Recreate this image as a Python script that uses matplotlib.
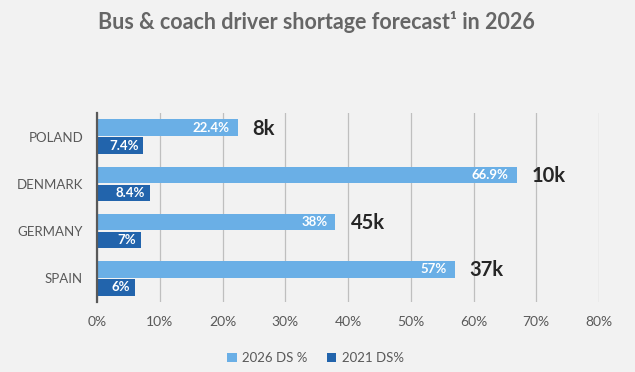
import matplotlib
matplotlib.use("Agg")
import matplotlib.pyplot as plt
import numpy as np
from matplotlib.patches import Patch

countries = ["POLAND", "DENMARK", "GERMANY", "SPAIN"]
ds_2026 = [22.4, 66.9, 38, 57]
ds_2021 = [7.4, 8.4, 7, 6]
labels_2026 = ["22.4%", "66.9%", "38%", "57%"]
labels_2021 = ["7.4%", "8.4%", "7%", "6%"]
shortage = ["8k", "10k", "45k", "37k"]
xticks = [0, 10, 20, 30, 40, 50, 60, 70, 80]
series_names = ["2026 DS %", "2021 DS%"]

plt.rcParams['font.family'] = ['Lato', 'DejaVu Sans']

bg = "#F2F2F2"
c_light = "#6AAFE6"
c_dark = "#2264AC"
txt = "#595959"

fig = plt.figure(figsize=(6.35, 3.72), dpi=100, facecolor=bg)
ax = fig.add_axes([0.1528, 0.188, 0.7905, 0.508], facecolor=bg)

y = np.arange(len(countries))
h = 0.35
off = 0.19
ax.barh(y - off, ds_2026, height=h, color=c_light, zorder=3)
ax.barh(y + off, ds_2021, height=h, color=c_dark, zorder=3)

for i in range(len(countries)):
    ax.text(ds_2026[i] - 1.3, y[i] - off, labels_2026[i], ha="right", va="center",
            color="white", fontsize=9.5, fontweight="bold", zorder=4)
    ax.text(ds_2021[i] - 0.8, y[i] + off, labels_2021[i], ha="right", va="center",
            color="white", fontsize=9.5, fontweight="bold", zorder=4)
    ax.text(ds_2026[i] + 2.4, y[i] - off + 0.02, shortage[i], ha="left", va="center",
            color="#262626", fontsize=14.5, fontweight="bold", zorder=4)

ax.set_xlim(0, 80)
ax.set_ylim(3.5, -0.5)
ax.set_xticks(xticks)
ax.set_xticklabels([f"{v}%" for v in xticks], color=txt, fontsize=10)
ax.set_yticks(y)
ax.set_yticklabels(countries, color=txt, fontsize=9.5)
ax.tick_params(axis="both", length=0, pad=10)
ax.tick_params(axis="y", pad=10)
ax.grid(axis="x", color="#BFBFBF", linewidth=0.9, zorder=0)
for s in ["top", "right", "bottom"]:
    ax.spines[s].set_visible(False)
ax.spines["left"].set_color("#595959")
ax.spines["left"].set_linewidth(1.6)
ax.spines["left"].set_zorder(5)

fig.text(0.498, 0.94, "Bus & coach driver shortage forecast¹ in 2026", ha="center", va="center",
         fontsize=15.5, fontweight="bold", color="#666666")

handles = [Patch(facecolor=c_light), Patch(facecolor=c_dark)]
fig.legend(handles, series_names, loc="center", bbox_to_anchor=(0.497, 0.038), ncol=2,
           frameon=False, fontsize=9.5, handlelength=0.7, handleheight=0.7,
           handletextpad=0.4, columnspacing=1.5, labelcolor=txt)

fig.savefig("out.png", dpi=100, facecolor=bg)
